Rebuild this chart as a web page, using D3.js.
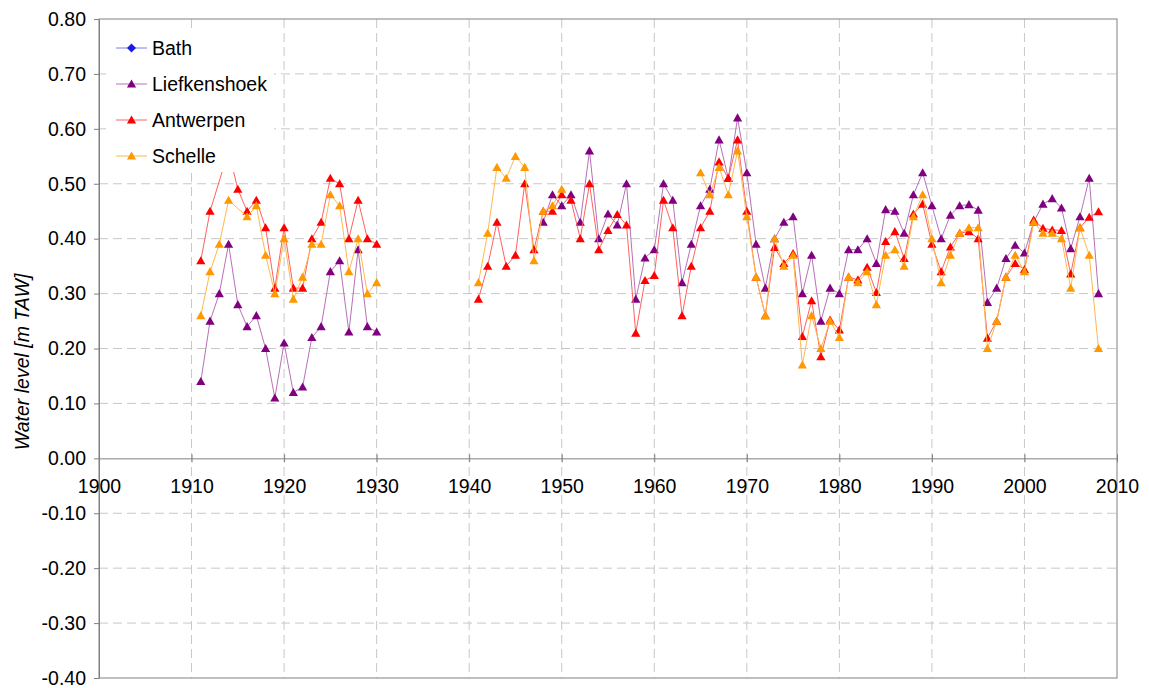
<!DOCTYPE html>
<html>
<head>
<meta charset="utf-8">
<script src="https://cdn.jsdelivr.net/npm/d3@7"></script>
<style>
body { margin: 0; background: #fff; }
svg { font-family: "Liberation Sans", Arial, sans-serif; }
</style>
</head>
<body>
<div id="chart"></div>
<script>
// years of the two measuring periods
const years = d3.range(1911, 1931).concat(d3.range(1941, 2009));

// values per station, aligned with years (null = no value)
const bath = [];

const liefkenshoek = [
    0.14, 0.25, 0.30, 0.39, 0.28, 0.24, 0.26, 0.20, 0.11, 0.21,
    0.12, 0.13, 0.22, 0.24, 0.34, 0.36, 0.23, 0.38, 0.24, 0.23,
    null, null, null, null, null, null, null, 0.43, 0.48, 0.46,
    0.48, 0.43, 0.56, 0.40, 0.445, 0.425, 0.50, 0.29, 0.365, 0.38,
    0.50, 0.47, 0.32, 0.39, 0.46, 0.49, 0.58, 0.51, 0.62, 0.52,
    0.39, 0.31, 0.40, 0.43, 0.44, 0.30, 0.37, 0.25, 0.31, 0.30,
    0.38, 0.38, 0.40, 0.355, 0.453, 0.45, 0.41, 0.48, 0.52, 0.46,
    0.40, 0.443, 0.46, 0.462, 0.452, 0.284, 0.31, 0.364, 0.388, 0.374,
    0.43, 0.463, 0.473, 0.456, 0.382, 0.44, 0.51, 0.30
];

const antwerpen = [
    0.36, 0.45, null, 0.56, 0.49, 0.45, 0.47, 0.42, 0.31, 0.42,
    0.31, 0.31, 0.40, 0.43, 0.51, 0.50, 0.40, 0.47, 0.40, 0.39,
    0.29, 0.35, 0.43, 0.35, 0.37, 0.50, 0.38, 0.45, 0.45, 0.48,
    0.47, 0.40, 0.50, 0.38, 0.415, 0.444, 0.425, 0.228, 0.324, 0.333,
    0.47, 0.42, 0.26, 0.35, 0.42, 0.45, 0.54, 0.51, 0.58, 0.45,
    0.33, 0.26, 0.384, 0.355, 0.373, 0.222, 0.287, 0.185, 0.252, 0.234,
    0.33, 0.325, 0.348, 0.302, 0.395, 0.413, 0.364, 0.445, 0.463, 0.39,
    0.34, 0.385, 0.41, 0.413, 0.40, 0.219, 0.25, 0.33, 0.355, 0.344,
    0.434, 0.419, 0.416, 0.415, 0.336, 0.42, 0.439, 0.449
];

const schelle = [
    0.26, 0.34, 0.39, 0.47, null, 0.44, 0.46, 0.37, 0.30, 0.40,
    0.29, 0.33, 0.39, 0.39, 0.48, 0.46, 0.34, 0.40, 0.30, 0.32,
    0.32, 0.41, 0.53, 0.51, 0.55, 0.53, 0.36, 0.45, 0.46, 0.49,
    null, null, null, null, null, null, null, null, null, null,
    null, null, null, null, 0.52, 0.48, 0.53, 0.48, 0.56, 0.44,
    0.33, 0.26, 0.40, 0.35, 0.37, 0.17, 0.26, 0.20, 0.25, 0.22,
    0.33, 0.32, 0.34, 0.28, 0.37, 0.38, 0.35, 0.44, 0.48, 0.40,
    0.32, 0.37, 0.41, 0.42, 0.42, 0.20, 0.25, 0.33, 0.37, 0.34,
    0.43, 0.41, 0.41, 0.40, 0.31, 0.42, 0.37, 0.20
];

const xTicks = [1900, 1910, 1920, 1930, 1940, 1950, 1960, 1970, 1980, 1990, 2000, 2010];
const yTicks = [-0.4, -0.3, -0.2, -0.1, 0, 0.1, 0.2, 0.3, 0.4, 0.5, 0.6, 0.7, 0.8];

const series = [
    {name: "Bath", values: bath, color: "#1a1ae6", line: "#7a7af0", marker: "diamond"},
    {name: "Liefkenshoek", values: liefkenshoek, color: "#800080", line: "#b870b8", marker: "triangle"},
    {name: "Antwerpen", values: antwerpen, color: "#ff0000", line: "#ff6060", marker: "triangle"},
    {name: "Schelle", values: schelle, color: "#ff9900", line: "#ffb84d", marker: "triangle"}
];

const W = 1149, H = 688;
const plotL = 99, plotR = 1117, plotT = 19, plotB = 678;

const svg = d3.select("#chart").append("svg")
    .attr("width", W)
    .attr("height", H);

const x = d3.scaleLinear().domain([1900, 2010]).range([plotL, plotR]);
const y = d3.scaleLinear().domain([-0.4, 0.8]).range([plotB, plotT]);

// grid
svg.append("g")
    .selectAll("line")
    .data(yTicks.filter(d => d > -0.4 && d < 0.8 && Math.abs(d) > 1e-9))
    .enter().append("line")
    .attr("x1", plotL).attr("x2", plotR)
    .attr("y1", d => y(d)).attr("y2", d => y(d))
    .attr("stroke", "#c8c8c8")
    .attr("stroke-dasharray", "9,5");

svg.append("g")
    .selectAll("line")
    .data(xTicks.filter(d => d > 1900 && d < 2010))
    .enter().append("line")
    .attr("x1", d => x(d)).attr("x2", d => x(d))
    .attr("y1", plotT).attr("y2", plotB)
    .attr("stroke", "#c8c8c8")
    .attr("stroke-dasharray", "9,5");

// frame
svg.append("rect")
    .attr("x", plotL).attr("y", plotT)
    .attr("width", plotR - plotL).attr("height", plotB - plotT)
    .attr("fill", "none")
    .attr("stroke", "#808080");

// y axis
const yAxis = svg.append("g")
    .attr("transform", `translate(${plotL},0)`)
    .call(d3.axisLeft(y).tickValues(yTicks).tickFormat(d => d.toFixed(2)).tickSize(5).tickPadding(8).tickSizeOuter(0));
yAxis.select(".domain").attr("stroke", "#808080");
yAxis.selectAll(".tick line").attr("stroke", "#808080");
yAxis.selectAll("text").attr("font-size", "19.5px").attr("fill", "#000")
    .attr("font-family", "'Liberation Sans', Arial, sans-serif");

// x axis on the zero line
const xAxis = svg.append("g")
    .attr("transform", `translate(0,${y(0)})`)
    .call(d3.axisBottom(x).tickValues(xTicks).tickFormat(d3.format("d")).tickSizeOuter(0));
xAxis.select(".domain").attr("stroke", "#808080");
xAxis.selectAll(".tick line").attr("stroke", "#808080").attr("y1", -4).attr("y2", 4);
xAxis.selectAll("text").attr("y", 21).attr("font-size", "19.5px").attr("fill", "#000")
    .attr("font-family", "'Liberation Sans', Arial, sans-serif");

// axis title
svg.append("text")
    .attr("transform", `translate(29,362) rotate(-90)`)
    .attr("text-anchor", "middle")
    .attr("font-size", "19.5px")
    .attr("font-style", "italic")
    .text("Water level [m TAW]");

const triangle = "M0,-4.5L4.6,3.6L-4.6,3.6Z";
const diamond = "M0,-4.5L4.5,0L0,4.5L-4.5,0Z";

const line = d3.line()
    .x(d => x(d.year))
    .y(d => y(d.value));

// series: line then markers
series.forEach(s => {
    const pts = years.map((yr, i) => ({year: yr, value: s.values[i]}))
        .filter(d => d.value != null);
    // break line only where several years are missing
    const segments = [];
    pts.forEach((d, i) => {
        if (i === 0 || d.year - pts[i - 1].year > 2) segments.push([]);
        segments[segments.length - 1].push(d);
    });

    const g = svg.append("g");
    g.selectAll("path.line")
        .data(segments)
        .enter().append("path")
        .attr("class", "line")
        .attr("d", line)
        .attr("fill", "none")
        .attr("stroke", s.line)
        .attr("stroke-width", 1);

    g.selectAll("path.mark")
        .data(pts)
        .enter().append("path")
        .attr("class", "mark")
        .attr("d", s.marker === "diamond" ? diamond : triangle)
        .attr("transform", d => `translate(${x(d.year)},${y(d.value)})`)
        .attr("fill", s.color);
});

// legend
const legend = svg.append("g");
legend.append("rect")
    .attr("x", 106).attr("y", 28)
    .attr("width", 168).attr("height", 144)
    .attr("fill", "#fff");

const rows = legend.selectAll("g.row")
    .data(series)
    .enter().append("g")
    .attr("class", "row")
    .attr("transform", (d, i) => `translate(0,${48 + i * 36})`);

rows.append("line")
    .attr("x1", 116).attr("x2", 147)
    .attr("stroke", d => d.line);

rows.append("path")
    .attr("d", d => d.marker === "diamond" ? diamond : triangle)
    .attr("transform", "translate(131.5,0)")
    .attr("fill", d => d.color);

rows.append("text")
    .attr("x", 152)
    .attr("dy", "0.36em")
    .attr("font-size", "19.5px")
    .text(d => d.name);
</script>
</body>
</html>
